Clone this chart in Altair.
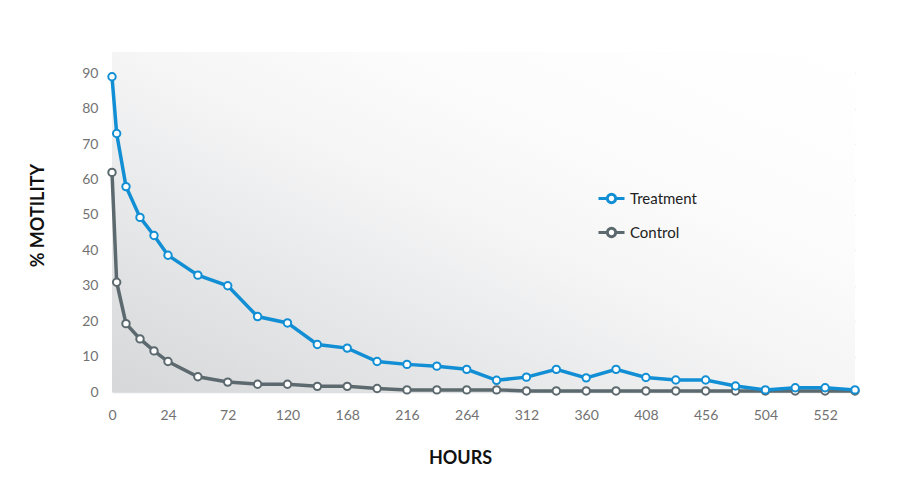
import altair as alt
import pandas as pd

hours = [0, 2, 6, 12, 18, 24, 48, 72, 96, 120, 144, 168, 192, 216, 240, 264,
         288, 312, 336, 360, 384, 408, 432, 456, 480, 504, 528, 552, 576]
treatment = [89, 73, 58, 49.3, 44.2, 38.6, 33, 30, 21.3, 19.5, 13.4, 12.4, 8.6,
             7.8, 7.3, 6.4, 3.3, 4.2, 6.4, 4.0, 6.4, 4.1, 3.4, 3.4, 1.7, 0.6,
             1.2, 1.2, 0.6]
control = [62, 31, 19.3, 15, 11.6, 8.6, 4.3, 2.8, 2.2, 2.2, 1.6, 1.6, 1.0, 0.6,
           0.6, 0.6, 0.6, 0.3, 0.3, 0.3, 0.3, 0.3, 0.3, 0.3, 0.3, 0.3, 0.3,
           0.3, 0.3]
series_names = ["Treatment", "Control"]
series_colors = ["#128fd4", "#5c696e"]
x_ticks = [0, 24, 72, 120, 168, 216, 264, 312, 360, 408, 456, 504, 552]
y_ticks = [0, 10, 20, 30, 40, 50, 60, 70, 80, 90]

rows = []
for h, t, c in zip(hours, treatment, control):
    rows.append({"hours": h, "value": t, "series": "Treatment"})
    rows.append({"hours": h, "value": c, "series": "Control"})
df = pd.DataFrame(rows)

W, H = 743, 340
FONT = "Lato"

xscale = alt.Scale(domain=[0, 24, 576], range=[0, 56, W])
yscale = alt.Scale(domain=[0, 96], nice=False, zero=True)
cscale = alt.Scale(domain=series_names, range=series_colors)

x_enc = alt.X("hours:Q", scale=xscale,
              axis=alt.Axis(values=x_ticks, title="HOURS", grid=False, domain=False,
                            ticks=False, labelPadding=16, labelFontSize=14,
                            labelColor="#727272", labelFont=FONT, labelFlush=False,
                            titleFont=FONT, titleFontSize=18, titleFontWeight="bold",
                            titleColor="#111111", titleX=348, titleY=66,
                            titleAlign="center", titleBaseline="middle"))
y_enc = alt.Y("value:Q", scale=yscale,
              axis=alt.Axis(values=y_ticks, title="% MOTILITY", grid=True,
                            gridColor="#dde0e3", gridWidth=1.5, domain=False,
                            ticks=False, labelPadding=14, labelFontSize=14,
                            labelColor="#727272", labelFont=FONT, labelFlush=False,
                            titleFont=FONT, titleFontSize=18, titleFontWeight="bold",
                            titleColor="#111111", titleX=-74, titleY=163,
                            titleAngle=270, titleAlign="center",
                            titleBaseline="middle"))

bg = alt.Chart(alt.Data(values=[{"a": 1}])).mark_rect(
    color=alt.LinearGradient(
        gradient="linear", x1=0, y1=1, x2=1, y2=0,
        stops=[alt.GradientStop(offset=0, color="#d6d7d9"),
               alt.GradientStop(offset=0.25, color="#e5e6e7"),
               alt.GradientStop(offset=0.5, color="#f5f5f6"),
               alt.GradientStop(offset=0.7, color="#fcfcfc"),
               alt.GradientStop(offset=1, color="#ffffff")])
).encode(x=alt.value(0), x2=alt.value(W), y=alt.value(0), y2=alt.value(H))

sym_path = ("M-1,0L-0.32,0M0.32,0A0.32,0.32,0,1,1,-0.32,0"
            "A0.32,0.32,0,1,1,0.32,0M0.32,0L1,0")

legend = alt.Legend(title=None, orient="none", legendX=485, legendY=132,
                    symbolType=sym_path, symbolSize=676, symbolStrokeWidth=3,
                    symbolFillColor="white", labelFont=FONT, labelFontSize=15,
                    labelColor="#222222", rowPadding=9, labelOffset=4)

layers = [bg]
for name in ["Control", "Treatment"]:
    base = alt.Chart(df).transform_filter(alt.datum.series == name)
    line = base.mark_line(strokeWidth=3.5).encode(
        x=x_enc, y=y_enc,
        color=alt.Color("series:N", scale=cscale, legend=legend))
    pts = base.mark_point(filled=True, fill="white", size=55, strokeWidth=2,
                          opacity=1).encode(
        x=x_enc, y=y_enc,
        stroke=alt.Stroke("series:N", scale=cscale, legend=None))
    layers += [line, pts]

chart = alt.layer(*layers).properties(
    width=W, height=H,
    autosize=alt.AutoSizeParams(type="none"),
    padding={"left": 104, "top": 44, "right": 37, "bottom": 103},
    background="white"
).configure_view(stroke=None)

chart.save("out.html", embed_options={"renderer": "svg", "actions": False})
